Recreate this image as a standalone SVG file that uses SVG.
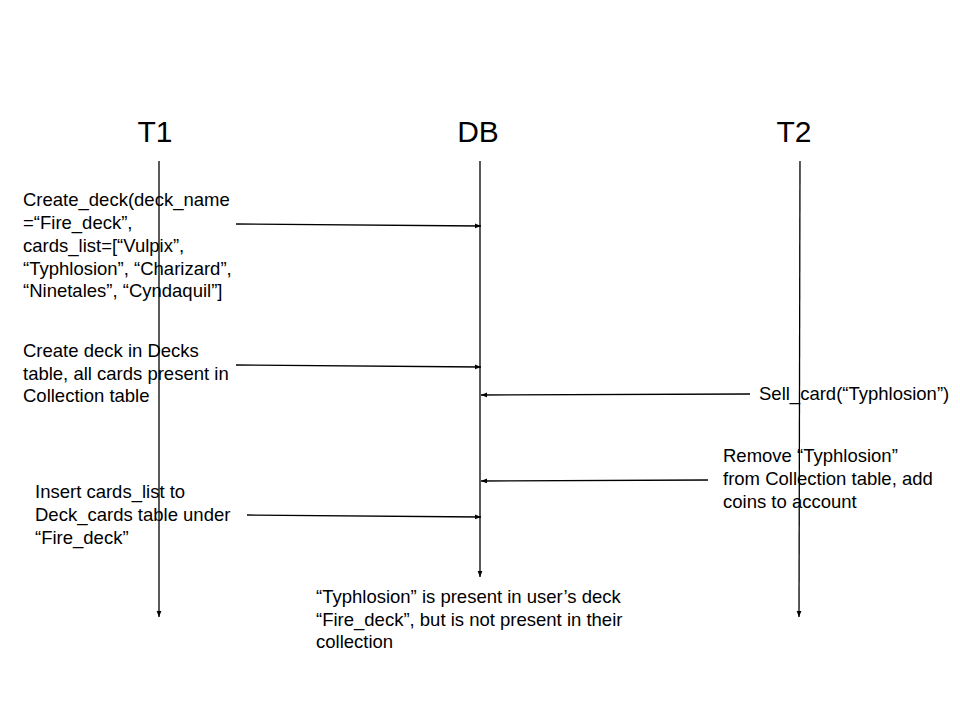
<svg xmlns="http://www.w3.org/2000/svg" width="960" height="720" viewBox="0 0 960 720">
<defs>
<marker id="ah" viewBox="0 0 10 10" refX="10" refY="5" markerWidth="6" markerHeight="6" orient="auto" markerUnits="userSpaceOnUse">
<path d="M0,1 L10,5 L0,9 z" fill="#000"/>
</marker>
</defs>
<style>
text{font-family:"Liberation Sans",Arial,sans-serif;fill:#000}
.t{font-size:30px;text-anchor:middle}
.l{font-size:18.5px}
.ln{stroke:#000;stroke-width:1.3;fill:none;marker-end:url(#ah)}
</style>
<rect width="960" height="720" fill="#fff"/>
<g id="T1">
<text class="t" x="155" y="142">T1</text>
</g>
<g id="DB">
<text class="t" x="478" y="142">DB</text>
</g>
<g id="T2">
<text class="t" x="794" y="142">T2</text>
</g>
<g id="connectors">
<line class="ln" x1="159" y1="161" x2="159" y2="617"/>
<line class="ln" x1="480" y1="161" x2="480" y2="577"/>
<line class="ln" x1="800" y1="161" x2="799" y2="617"/>
<line class="ln" x1="236" y1="224" x2="481" y2="226"/>
<line class="ln" x1="236" y1="365" x2="481" y2="367"/>
<line class="ln" x1="750" y1="394" x2="481" y2="395"/>
<line class="ln" x1="708" y1="480" x2="481" y2="481"/>
<line class="ln" x1="247" y1="515" x2="481" y2="517"/>
</g>
<g id="labels">
<text class="l" x="23" y="206">Create_deck(deck_name</text>
<text class="l" x="23" y="229">=“Fire_deck”,</text>
<text class="l" x="23" y="252">cards_list=[“Vulpix”,</text>
<text class="l" x="23" y="275">“Typhlosion”, “Charizard”,</text>
<text class="l" x="23" y="297">“Ninetales”, “Cyndaquil”]</text>
<text class="l" x="23" y="357">Create deck in Decks</text>
<text class="l" x="23" y="380">table, all cards present in</text>
<text class="l" x="23" y="402">Collection table</text>
<text class="l" x="759" y="400">Sell_card(“Typhlosion”)</text>
<text class="l" x="723" y="462">Remove “Typhlosion”</text>
<text class="l" x="723" y="485">from Collection table, add</text>
<text class="l" x="723" y="508">coins to account</text>
<text class="l" x="35" y="498">Insert cards_list to</text>
<text class="l" x="35" y="521">Deck_cards table under</text>
<text class="l" x="35" y="544">“Fire_deck”</text>
<text class="l" x="316" y="603">“Typhlosion” is present in user’s deck</text>
<text class="l" x="316" y="626">“Fire_deck”, but is not present in their</text>
<text class="l" x="316" y="648">collection</text>
</g>
</svg>
